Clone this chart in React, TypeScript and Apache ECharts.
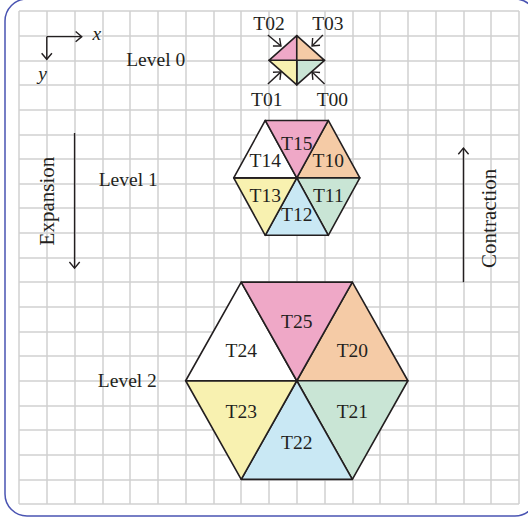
import React, { useEffect, useRef } from "react";
import * as echarts from "echarts";

// ---- grid (data units) ----
const GRID_COLS = 18;
const GRID_ROWS = 20;

// ---- subdivision levels ----
const levelNames = ["Level 0", "Level 1", "Level 2"];
const levelLabelX = [4.92, 3.93, 3.9];
const levelLabelY = [1.95, 6.83, 15.0];
const shapeCenterX = [10, 10, 10];
const shapeCenterY = [2, 6.77, 15];
const shapeHalfW = [1, 2.27, 4];
const shapeHalfH = [1, 2.33, 4];
const shapeSides = [4, 6, 6];

// ---- triangle names ----
const level0Names = ["T00", "T01", "T02", "T03"];
const level1Names = ["T10", "T11", "T12", "T13", "T14", "T15"];
const level2Names = ["T20", "T21", "T22", "T23", "T24", "T25"];

// level-0 labels sit outside the diamond
const level0LabelX = [11.28, 8.92, 9.0, 11.12];
const level0LabelY = [3.61, 3.61, 0.5, 0.5];

// ---- arrows (data units) ----
const arrowFromX = [1, 1, 2, 16, 11.0, 8.96, 8.96, 10.94];
const arrowFromY = [1.04, 1.04, 4.95, 11.0, 2.96, 2.96, 0.97, 0.97];
const arrowToX = [2.26, 1, 2, 16, 10.55, 9.43, 9.43, 10.55];
const arrowToY = [1.04, 1.96, 10.43, 5.56, 2.47, 2.47, 1.42, 1.42];

// ---- free texts ----
const freeTexts = ["x", "y", "Expansion", "Contraction"];
const freeTextX = [2.8, 0.85, 1.02, 16.93];
const freeTextY = [0.91, 2.55, 7.71, 8.41];

// ---- styles ----
const INK = "#231f20";
const PINK = "#efa8c7";
const ORANGE = "#f5cba6";
const GREEN = "#c9e5d5";
const BLUE = "#c9e8f4";
const YELLOW = "#f8f1b0";
const WHITE = "#ffffff";
const diamondFills = [GREEN, YELLOW, PINK, ORANGE];
const hexFills = [ORANGE, GREEN, BLUE, YELLOW, WHITE, PINK];
const hexLabelOffset = [
  [0.5, -0.31],
  [0.5, 0.31],
  [0, 0.63],
  [-0.5, 0.31],
  [-0.5, -0.31],
  [0, -0.6],
];
const FONT = '"Liberation Serif", "Times New Roman", serif';

function shapeVertices(level: number): number[][] {
  const cx = shapeCenterX[level];
  const cy = shapeCenterY[level];
  const hw = shapeHalfW[level];
  const hh = shapeHalfH[level];
  if (shapeSides[level] === 4) {
    return [
      [cx + hw, cy],
      [cx, cy + hh],
      [cx - hw, cy],
      [cx, cy - hh],
    ];
  }
  return [
    [cx + hw / 2, cy - hh],
    [cx + hw, cy],
    [cx + hw / 2, cy + hh],
    [cx - hw / 2, cy + hh],
    [cx - hw, cy],
    [cx - hw / 2, cy - hh],
  ];
}

const triNames: string[] = [];
const triFills: string[] = [];
const triData: number[][] = [];
[level0Names, level1Names, level2Names].forEach((names, level) => {
  const v = shapeVertices(level);
  const cx = shapeCenterX[level];
  const cy = shapeCenterY[level];
  names.forEach((name, k) => {
    const a = v[k];
    const b = v[(k + 1) % v.length];
    let lx: number, ly: number;
    if (level === 0) {
      lx = level0LabelX[k];
      ly = level0LabelY[k];
    } else {
      lx = cx + hexLabelOffset[k][0] * shapeHalfW[level];
      ly = cy + hexLabelOffset[k][1] * shapeHalfH[level];
    }
    triNames.push(name);
    triFills.push(level === 0 ? diamondFills[k] : hexFills[k]);
    triData.push([cx, cy, a[0], a[1], b[0], b[1], lx, ly]);
  });
});

const arrowData = arrowFromX.map((x, i) => [x, arrowFromY[i], arrowToX[i], arrowToY[i]]);
const levelTextData = levelNames.map((_, i) => [levelLabelX[i], levelLabelY[i]]);
const freeTextData = freeTexts.map((_, i) => [freeTextX[i], freeTextY[i]]);

function buildOption(): any {
  return {
    animation: false,
    backgroundColor: "#ffffff",
    grid: { left: 19, top: 11, width: 500, height: 493, containLabel: false },
    xAxis: {
      type: "value",
      min: 0,
      max: GRID_COLS,
      interval: 1,
      axisLine: { show: false },
      axisTick: { show: false },
      axisLabel: { show: false },
      splitLine: { show: true, lineStyle: { color: "#d0d0d0", width: 1.5 } },
    },
    yAxis: {
      type: "value",
      min: 0,
      max: GRID_ROWS,
      interval: 1,
      inverse: true,
      axisLine: { show: false },
      axisTick: { show: false },
      axisLabel: { show: false },
      splitLine: { show: true, lineStyle: { color: "#d0d0d0", width: 1.5 } },
    },
    graphic: [
      {
        type: "rect",
        shape: { x: 5, y: -1, width: 532, height: 517, r: 22 },
        style: { fill: "none", stroke: "#4a54b2", lineWidth: 1.5 },
        silent: true,
      },
    ],
    series: [
      {
        type: "custom",
        name: "triangles",
        coordinateSystem: "cartesian2d",
        clip: false,
        silent: true,
        encode: { x: 0, y: 1 },
        data: triData,
        renderItem: (params: any, api: any) => {
          const i = params.dataIndex;
          const p0 = api.coord([api.value(0), api.value(1)]);
          const p1 = api.coord([api.value(2), api.value(3)]);
          const p2 = api.coord([api.value(4), api.value(5)]);
          const lab = api.coord([api.value(6), api.value(7)]);
          return {
            type: "group",
            children: [
              {
                type: "polygon",
                shape: { points: [p0, p1, p2] },
                style: { fill: triFills[i], stroke: INK, lineWidth: 1.6, lineJoin: "round" },
              },
              {
                type: "text",
                x: lab[0],
                y: lab[1],
                z2: 10,
                style: {
                  text: triNames[i],
                  fill: INK,
                  font: `19.5px ${FONT}`,
                  align: "center",
                  verticalAlign: "middle",
                },
              },
            ],
          };
        },
      },
      {
        type: "custom",
        name: "arrows",
        coordinateSystem: "cartesian2d",
        clip: false,
        silent: true,
        encode: { x: 0, y: 1 },
        data: arrowData,
        renderItem: (params: any, api: any) => {
          const a = api.coord([api.value(0), api.value(1)]);
          const b = api.coord([api.value(2), api.value(3)]);
          const ang = Math.atan2(b[1] - a[1], b[0] - a[0]);
          const L = 8;
          const spread = (40 * Math.PI) / 180;
          const h1 = [b[0] - L * Math.cos(ang - spread), b[1] - L * Math.sin(ang - spread)];
          const h2 = [b[0] - L * Math.cos(ang + spread), b[1] - L * Math.sin(ang + spread)];
          return {
            type: "group",
            children: [
              {
                type: "line",
                shape: { x1: a[0], y1: a[1], x2: b[0], y2: b[1] },
                style: { stroke: INK, lineWidth: 1.4 },
              },
              {
                type: "polyline",
                shape: { points: [h1, b, h2] },
                style: { stroke: INK, lineWidth: 1.4, fill: "none" },
              },
            ],
          };
        },
      },
      {
        type: "custom",
        name: "levelLabels",
        coordinateSystem: "cartesian2d",
        clip: false,
        silent: true,
        encode: { x: 0, y: 1 },
        data: levelTextData,
        renderItem: (params: any, api: any) => {
          const p = api.coord([api.value(0), api.value(1)]);
          return {
            type: "text",
            x: p[0],
            y: p[1],
            style: {
              text: levelNames[params.dataIndex],
              fill: INK,
              font: `19.5px ${FONT}`,
              align: "center",
              verticalAlign: "middle",
            },
          };
        },
      },
      {
        type: "custom",
        name: "freeTexts",
        coordinateSystem: "cartesian2d",
        clip: false,
        silent: true,
        encode: { x: 0, y: 1 },
        data: freeTextData,
        renderItem: (params: any, api: any) => {
          const i = params.dataIndex;
          const p = api.coord([api.value(0), api.value(1)]);
          const italic = i < 2;
          const rotated = i >= 2;
          return {
            type: "text",
            x: p[0],
            y: p[1],
            rotation: rotated ? Math.PI / 2 : 0,
            style: {
              text: freeTexts[i],
              fill: INK,
              font: `${italic ? "italic " : ""}${rotated ? 21 : 19.5}px ${FONT}`,
              align: "center",
              verticalAlign: "middle",
            },
          };
        },
      },
    ],
  };
}

export default function App() {
  const ref = useRef<HTMLDivElement>(null);
  useEffect(() => {
    if (!ref.current) return;
    const chart = echarts.init(ref.current, null, { renderer: "svg" });
    chart.setOption(buildOption());
    return () => {
      chart.dispose();
    };
  }, []);
  return (
    <div
      ref={ref}
      style={{ position: "fixed", left: 0, top: 0, width: 528, height: 521, background: "#ffffff" }}
    />
  );
}
